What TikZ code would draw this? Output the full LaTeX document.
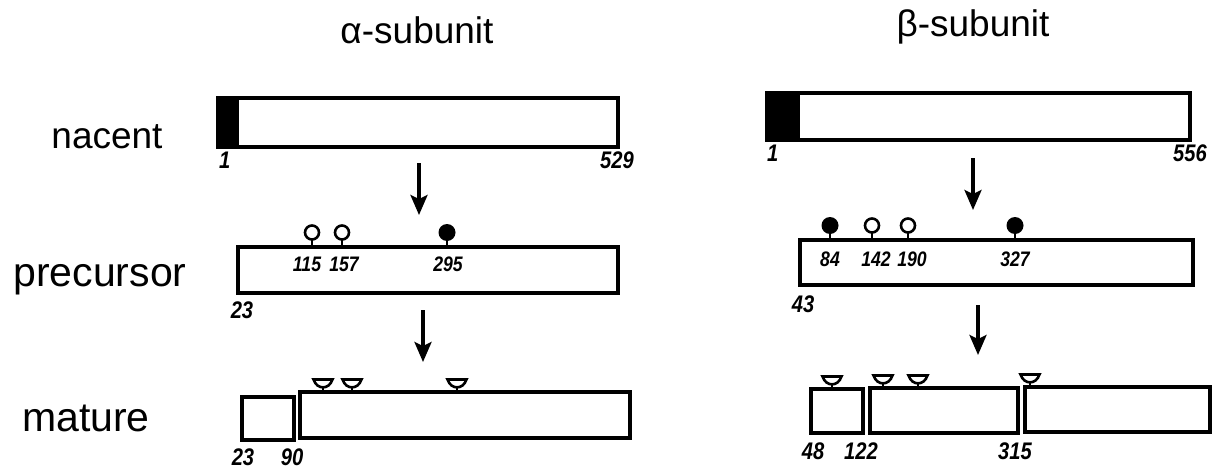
\documentclass[tikz,border=0pt]{standalone}
\usepackage{fontspec}
\setmainfont{Liberation Sans}
\usepackage{graphicx}
\usetikzlibrary{arrows.meta}
\newcommand{\nrw}[1]{\scalebox{0.84}[1]{#1}}
\begin{document}
\begin{tikzpicture}[x=1pt,y=-1pt,
  box/.style={draw, line width=3.3pt, inner sep=0pt, outer sep=0pt, fill=white, anchor=north west},
  big/.style={font=\fontsize{37}{40}\selectfont, inner sep=0pt, anchor=base},
  row/.style={font=\fontsize{38}{40}\selectfont, inner sep=0pt, anchor=base},
  num/.style={font=\fontsize{24}{26}\selectfont\bfseries\itshape, inner sep=0pt},
  inum/.style={font=\fontsize{21}{23}\selectfont\bfseries\itshape, inner sep=0pt},
  flow/.style={line width=3.4pt, -{Stealth[length=20pt,width=17pt,inset=4pt]}},
  stem/.style={line width=2.6pt},
  openlolly/.pic={\draw[stem] (0,0) -- (0,-7); \draw[stem, fill=white] (0,-14.5) circle[radius=7pt];},
  fulllolly/.pic={\draw[stem] (0,0) -- (0,-7); \fill (0,-14.5) circle[radius=8.5pt];},
  cup/.pic={\draw[stem] (0,0) -- (0,-4.5); \draw[stem, fill=white] (-9.5,-12.5) -- (9.5,-12.5) .. controls (6,-2) and (-6,-2) .. (-9.5,-12.5) -- cycle;}
]
\useasboundingbox (0,0) rectangle (1216,471);

% titles
\node[big] (ta) at (417,43) {α-subunit};
\node[big] (tb) at (973,36) {β-subunit};

% row labels
\node[row, font=\fontsize{37}{40}\selectfont] (ln) at (107,148) {nacent};
\node[row, font=\fontsize{41}{44}\selectfont] (lp) at (100,286) {precursor};
\node[row, font=\fontsize{41}{44}\selectfont] (lm) at (86,431) {mature};

% alpha boxes
\node[box, minimum width=400pt, minimum height=49pt] (an) at (218,98) {};
\fill (an.north west) rectangle ([xshift=21pt]an.south west);
\node[box, minimum width=380pt, minimum height=46pt] (ap) at (238,247) {};
\node[box, minimum width=52pt, minimum height=43pt] (am1) at (242,397) {};
\node[box, minimum width=330pt, minimum height=46pt] (am2) at (300,392) {};

% beta boxes
\node[box, minimum width=423pt, minimum height=47pt] (bn) at (767,93) {};
\fill (bn.north west) rectangle ([xshift=33pt]bn.south west);
\node[box, minimum width=393pt, minimum height=45pt] (bp) at (800,240) {};
\node[box, minimum width=52pt, minimum height=44pt] (bm1) at (811,389) {};
\node[box, minimum width=148pt, minimum height=45pt] (bm2) at (870,388) {};
\node[box, minimum width=185pt, minimum height=45pt] (bm3) at (1025,387) {};

% lollipops
\pic at (312,247) {openlolly};
\pic at (342,247) {openlolly};
\pic at (447,247) {fulllolly};
\pic at (830,240) {fulllolly};
\pic at (872,240) {openlolly};
\pic at (908,240) {openlolly};
\pic at (1015,240) {fulllolly};

% cups
\pic at (323,392) {cup};
\pic at (352,392) {cup};
\pic at (457,392) {cup};
\pic at (832,389) {cup};
\pic at (883,388) {cup};
\pic at (918,388) {cup};
\pic at (1030,387) {cup};

% numbers
\node[num, anchor=west] (n1a) at (219,160) {\nrw{1}};
\node[num] (n529) at (617,160) {\nrw{529}};
\node[num, anchor=west] (n1b) at (767,153) {\nrw{1}};
\node[num] (n556) at (1190,153) {\nrw{556}};
\node[num] (n23p) at (242,310) {\nrw{23}};
\node[inum] (n115) at (307,264) {\nrw{115}};
\node[inum] (n157) at (344,264) {\nrw{157}};
\node[inum] (n295) at (448,264) {\nrw{295}};
\node[num] (n43) at (803,304) {\nrw{43}};
\node[inum] (n84) at (830,259) {\nrw{84}};
\node[inum] (n142) at (876,259) {\nrw{142}};
\node[inum] (n190) at (912,259) {\nrw{190}};
\node[inum] (n327) at (1015,259) {\nrw{327}};
\node[num] (n23m) at (243,457) {\nrw{23}};
\node[num] (n90) at (292,457) {\nrw{90}};
\node[num] (n48) at (813,451) {\nrw{48}};
\node[num] (n122) at (861,451) {\nrw{122}};
\node[num] (n315) at (1015,451) {\nrw{315}};

% arrows
\coordinate (a1s) at (419,163); \coordinate (a1e) at (419,215);
\coordinate (a2s) at (423,310); \coordinate (a2e) at (423,362);
\coordinate (b1s) at (973,158); \coordinate (b1e) at (973,210);
\coordinate (b2s) at (978,305); \coordinate (b2e) at (978,355);
\draw[flow] (a1s) -- (a1e);
\draw[flow] (a2s) -- (a2e);
\draw[flow] (b1s) -- (b1e);
\draw[flow] (b2s) -- (b2e);
\end{tikzpicture}
\end{document}
